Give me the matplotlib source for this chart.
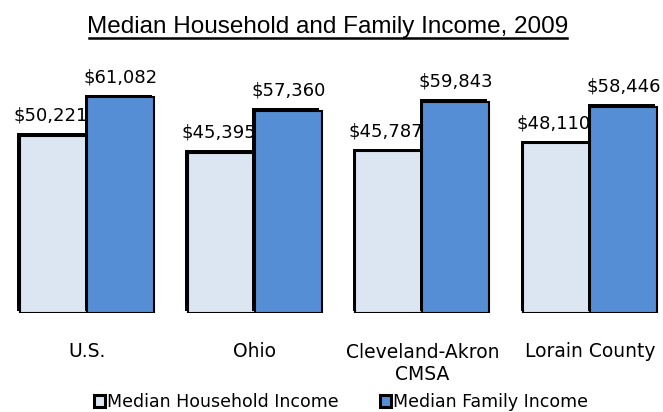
import matplotlib
matplotlib.use("Agg")
import matplotlib.pyplot as plt
import numpy as np
from matplotlib.patches import Rectangle
from matplotlib.lines import Line2D
import matplotlib.patheffects as pe
from matplotlib.transforms import blended_transform_factory

categories = ["U.S.", "Ohio", "Cleveland-Akron\nCMSA", "Lorain County"]
household = [50221, 45395, 45787, 48110]
family = [61082, 57360, 59843, 58446]
series_names = ["Median Household Income", "Median Family Income"]
title = "Median Household and Family Income, 2009"

c_house = "#DCE6F2"
c_family = "#558ED5"

W, H = 663, 412
fig = plt.figure(figsize=(W / 100, H / 100), dpi=100)

base_px = 99
top_px = 412
ax = fig.add_axes([0, base_px / H, 1, (top_px - base_px) / H])
px_per_k = 3.53
ax.set_ylim(0, (top_px - base_px) / px_per_k * 1000)
ax.set_xlim(-87 / 167.7, (W - 87) / 167.7)
ax.axis("off")

x = np.arange(len(categories))
bw = 0.4
shadow = [pe.SimplePatchShadow(offset=(-1.8, 1.8), shadow_rgbFace="black", alpha=1.0), pe.Normal()]
b1 = ax.bar(x - bw / 2, household, bw, color=c_house, edgecolor="black", linewidth=1.5, zorder=2)
b2 = ax.bar(x + bw / 2, family, bw, color=c_family, edgecolor="black", linewidth=1.5, zorder=3)
for b in list(b1) + list(b2):
    b.set_path_effects(shadow)

for xi, v in zip(x - bw / 2, household):
    ax.annotate(f"${v:,}", (xi, v), xytext=(-2, 10.8), textcoords="offset points",
                ha="center", va="baseline", fontsize=13, family="DejaVu Sans")
for xi, v in zip(x + bw / 2, family):
    ax.annotate(f"${v:,}", (xi, v), xytext=(0, 10.8), textcoords="offset points",
                ha="center", va="baseline", fontsize=13, family="DejaVu Sans")

tr = blended_transform_factory(ax.transData, fig.transFigure)
for xi, lab in zip(x, categories):
    nlines = lab.count("\n") + 1
    ybase = 357 + 23 * (nlines - 1)
    ax.text(xi, (H - ybase) / H, lab, transform=tr, ha="center", va="baseline",
            fontsize=13.5, family="DejaVu Sans", linespacing=1.19, multialignment="center")

# title with underline
fig.text(328 / W, (H - 33) / H, title, ha="center", va="baseline", fontsize=17.5,
         family="Liberation Sans")
fig.add_artist(Line2D([89 / W, 567 / W], [(H - 38) / H] * 2, color="black", linewidth=1.8,
                      transform=fig.transFigure))

# legend
leg_base = 407
leg = [(94, c_house, 107, series_names[0]), (380, c_family, 393, series_names[1])]
for mx, col, tx, name in leg:
    fig.add_artist(Rectangle((mx / W, (H - leg_base) / H), 11 / W, 12 / H, facecolor=col,
                             edgecolor="black", linewidth=2.2, transform=fig.transFigure))
    fig.text(tx / W, (H - leg_base) / H, name, ha="left", va="baseline", fontsize=12.5,
             family="DejaVu Sans")

fig.savefig("out.png", dpi=100)
